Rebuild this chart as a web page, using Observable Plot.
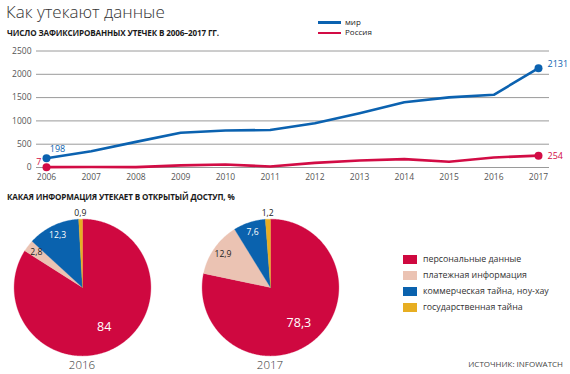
<!DOCTYPE html>
<html><head><meta charset="utf-8">
<script src="https://cdn.jsdelivr.net/npm/d3@7"></script>
<script src="https://cdn.jsdelivr.net/npm/@observablehq/plot@0.6"></script>
<style>
body{margin:0;width:570px;height:374px;position:relative;overflow:hidden;background:#fff;font-family:"Open Sans",sans-serif;color:#222;}
.abs{position:absolute;white-space:nowrap;}
#title{left:6px;top:0px;font-size:17px;font-weight:300;color:#333;line-height:24px;}
.head{left:7px;font-size:8.1px;font-weight:700;color:#1a1a1a;line-height:12px;letter-spacing:-0.15px;}
.lgl{width:23px;height:2.5px;}
.lgt{font-size:8px;color:#222;line-height:10px;}
.yr{font-size:11.5px;font-weight:300;color:#333;width:60px;text-align:center;line-height:16px;}
.sw{width:14px;height:9px;left:403px;}
.pt{left:423px;font-size:8.8px;color:#333;line-height:10px;}
#src{right:7px;top:358px;font-size:8px;color:#444;line-height:12px;}
</style></head><body>
<div id="title" class="abs">Как утекают данные</div>
<div class="abs head" style="top:27px">ЧИСЛО ЗАФИКСИРОВАННЫХ УТЕЧЕК В 2006–2017 ГГ.</div>
<div id="legend1"></div>
<div id="line" class="abs" style="left:0;top:40px"></div>
<div class="abs head" style="top:191px">КАКАЯ ИНФОРМАЦИЯ УТЕКАЕТ В ОТКРЫТЫЙ ДОСТУП, %</div>
<div id="pie1" class="abs" style="left:2px;top:207px"></div>
<div id="pie2" class="abs" style="left:190px;top:207px"></div>
<div id="yl"></div>
<div id="legend2"></div>
<div id="src" class="abs">ИСТОЧНИК: INFOWATCH</div>
<script>
// ---- data ----
const years = [2006, 2007, 2008, 2009, 2010, 2011, 2012, 2013, 2014, 2015, 2016, 2017];
const world = [198, 350, 550, 745, 793, 805, 950, 1165, 1400, 1505, 1560, 2131];
const russia = [7, 10, 8, 45, 65, 22, 100, 150, 180, 125, 215, 254];
const seriesNames = ["мир", "Россия"];
const seriesColors = ["#0b62b0", "#d20c45"];
const yTicks = [0, 500, 1000, 1500, 2000, 2500];

const pieYears = ["2016", "2017"];
const pieCategories = ["персональные данные", "платежная информация", "коммерческая тайна, ноу-хау", "государственная тайна"];
const pieColors = ["#cf0840", "#ebc3b3", "#0a62ae", "#e7ae22"];
const share2016 = [84, 2.8, 12.3, 0.9];
const share2017 = [78.3, 12.9, 7.6, 1.2];
const labelColors = ["#fff", "#222", "#fff", "#222"];

// ---- line chart ----
const rows = [];
years.forEach((y, i) => {
  rows.push({year: y, value: world[i], series: seriesNames[0]});
  rows.push({year: y, value: russia[i], series: seriesNames[1]});
});
const first = years[0], last = years[years.length - 1];
const ends = rows.filter(d => d.year === first || d.year === last);

const lineChart = Plot.plot({
  width: 570, height: 148,
  marginLeft: 46, marginRight: 32, marginTop: 10.5, marginBottom: 21,
  style: {fontFamily: "Open Sans, sans-serif", fontSize: "8.5px", color: "#555", background: "transparent", overflow: "visible"},
  x: {domain: [first, last], ticks: years, tickFormat: "d", tickSize: 0, tickPadding: 6, label: null},
  y: {domain: [0, 2500], ticks: yTicks, tickFormat: "d", tickSize: 0, tickPadding: 15, label: null},
  color: {domain: seriesNames, range: seriesColors},
  marks: [
    Plot.ruleY(yTicks, {stroke: "#9a9a9a", strokeWidth: 1, insetLeft: -10, insetRight: -11}),
    Plot.line(rows, {x: "year", y: "value", z: "series", stroke: "series", strokeWidth: 2.6}),
    Plot.dot(ends, {x: "year", y: "value", fill: "series", r: 4}),
    Plot.text(ends.filter(d => d.year === first && d.series === seriesNames[0]),
      {x: "year", y: "value", text: d => String(d.value), fill: "series", dx: 11, dy: -9, fontSize: 9}),
    Plot.text(ends.filter(d => d.year === first && d.series === seriesNames[1]),
      {x: "year", y: "value", text: d => String(d.value), fill: "series", dx: -5, dy: -5, textAnchor: "end", fontSize: 9}),
    Plot.text(ends.filter(d => d.year === last && d.series === seriesNames[0]),
      {x: "year", y: "value", text: d => String(d.value), fill: "series", dx: 9, dy: -4, textAnchor: "start", fontSize: 9}),
    Plot.text(ends.filter(d => d.year === last && d.series === seriesNames[1]),
      {x: "year", y: "value", text: d => String(d.value), fill: "series", dx: 9, textAnchor: "start", fontSize: 9})
  ]
});
document.getElementById("line").appendChild(lineChart);

// top legend
const lg1 = document.getElementById("legend1");
seriesNames.forEach((n, i) => {
  const cy = 22.5 + i * 10.5;
  lg1.insertAdjacentHTML("beforeend",
    `<div class="abs lgl" style="left:318px;top:${cy - 1.25}px;background:${seriesColors[i]}"></div>` +
    `<div class="abs lgt" style="left:345px;top:${cy - 6}px">${n}</div>`);
});

// ---- pies ----
function pieChart(values) {
  const arcs = d3.pie().sort(null).value(d => d)(values);
  const marks = [];
  const labels = [];
  arcs.forEach((a, i) => {
    const pts = [{x: 0, y: 0}];
    const n = Math.max(2, Math.ceil((a.endAngle - a.startAngle) / 0.01));
    for (let k = 0; k <= n; k++) {
      const t = a.startAngle + (a.endAngle - a.startAngle) * k / n;
      pts.push({x: Math.sin(t), y: Math.cos(t)});
    }
    pts.push({x: 0, y: 0});
    marks.push(Plot.line(pts, {x: "x", y: "y", fill: pieColors[i], stroke: pieColors[i], strokeWidth: 0.3, curve: "linear"}));
    const mid = (a.startAngle + a.endAngle) / 2;
    const v = values[i];
    const r = v > 50 ? 0.66 : (v < 2 ? 1.09 : 0.85);
    labels.push({x: Math.sin(mid) * r, y: Math.cos(mid) * r, text: String(v).replace(".", ","),
      color: v < 2 ? "#222" : labelColors[i], size: v > 50 ? 12.5 : 8.6, weight: v > 50 ? 400 : 600});
  });
  marks.push(Plot.text(labels, {x: "x", y: "y", text: "text", fill: d => d.color, fontSize: d => d.size, fontWeight: d => d.weight}));
  return Plot.plot({
    width: 160, height: 160, margin: 0,
    style: {fontFamily: "Open Sans, sans-serif", background: "transparent", overflow: "visible"},
    x: {domain: [-1.17, 1.17], axis: null},
    y: {domain: [-1.17, 1.17], axis: null},
    marks
  });
}
document.getElementById("pie1").appendChild(pieChart(share2016));
document.getElementById("pie2").appendChild(pieChart(share2017));

const yl = document.getElementById("yl");
[82, 270].forEach((cx, i) => {
  yl.insertAdjacentHTML("beforeend", `<div class="abs yr" style="left:${cx - 30}px;top:357px">${pieYears[i]}</div>`);
});

const lg2 = document.getElementById("legend2");
pieCategories.forEach((c, i) => {
  const cy = 259 + i * 16.3;
  lg2.insertAdjacentHTML("beforeend",
    `<div class="abs sw" style="top:${cy - 4.5}px;background:${pieColors[i]}"></div>` +
    `<div class="abs pt" style="top:${cy - 5.5}px">${c}</div>`);
});
</script>
</body></html>
